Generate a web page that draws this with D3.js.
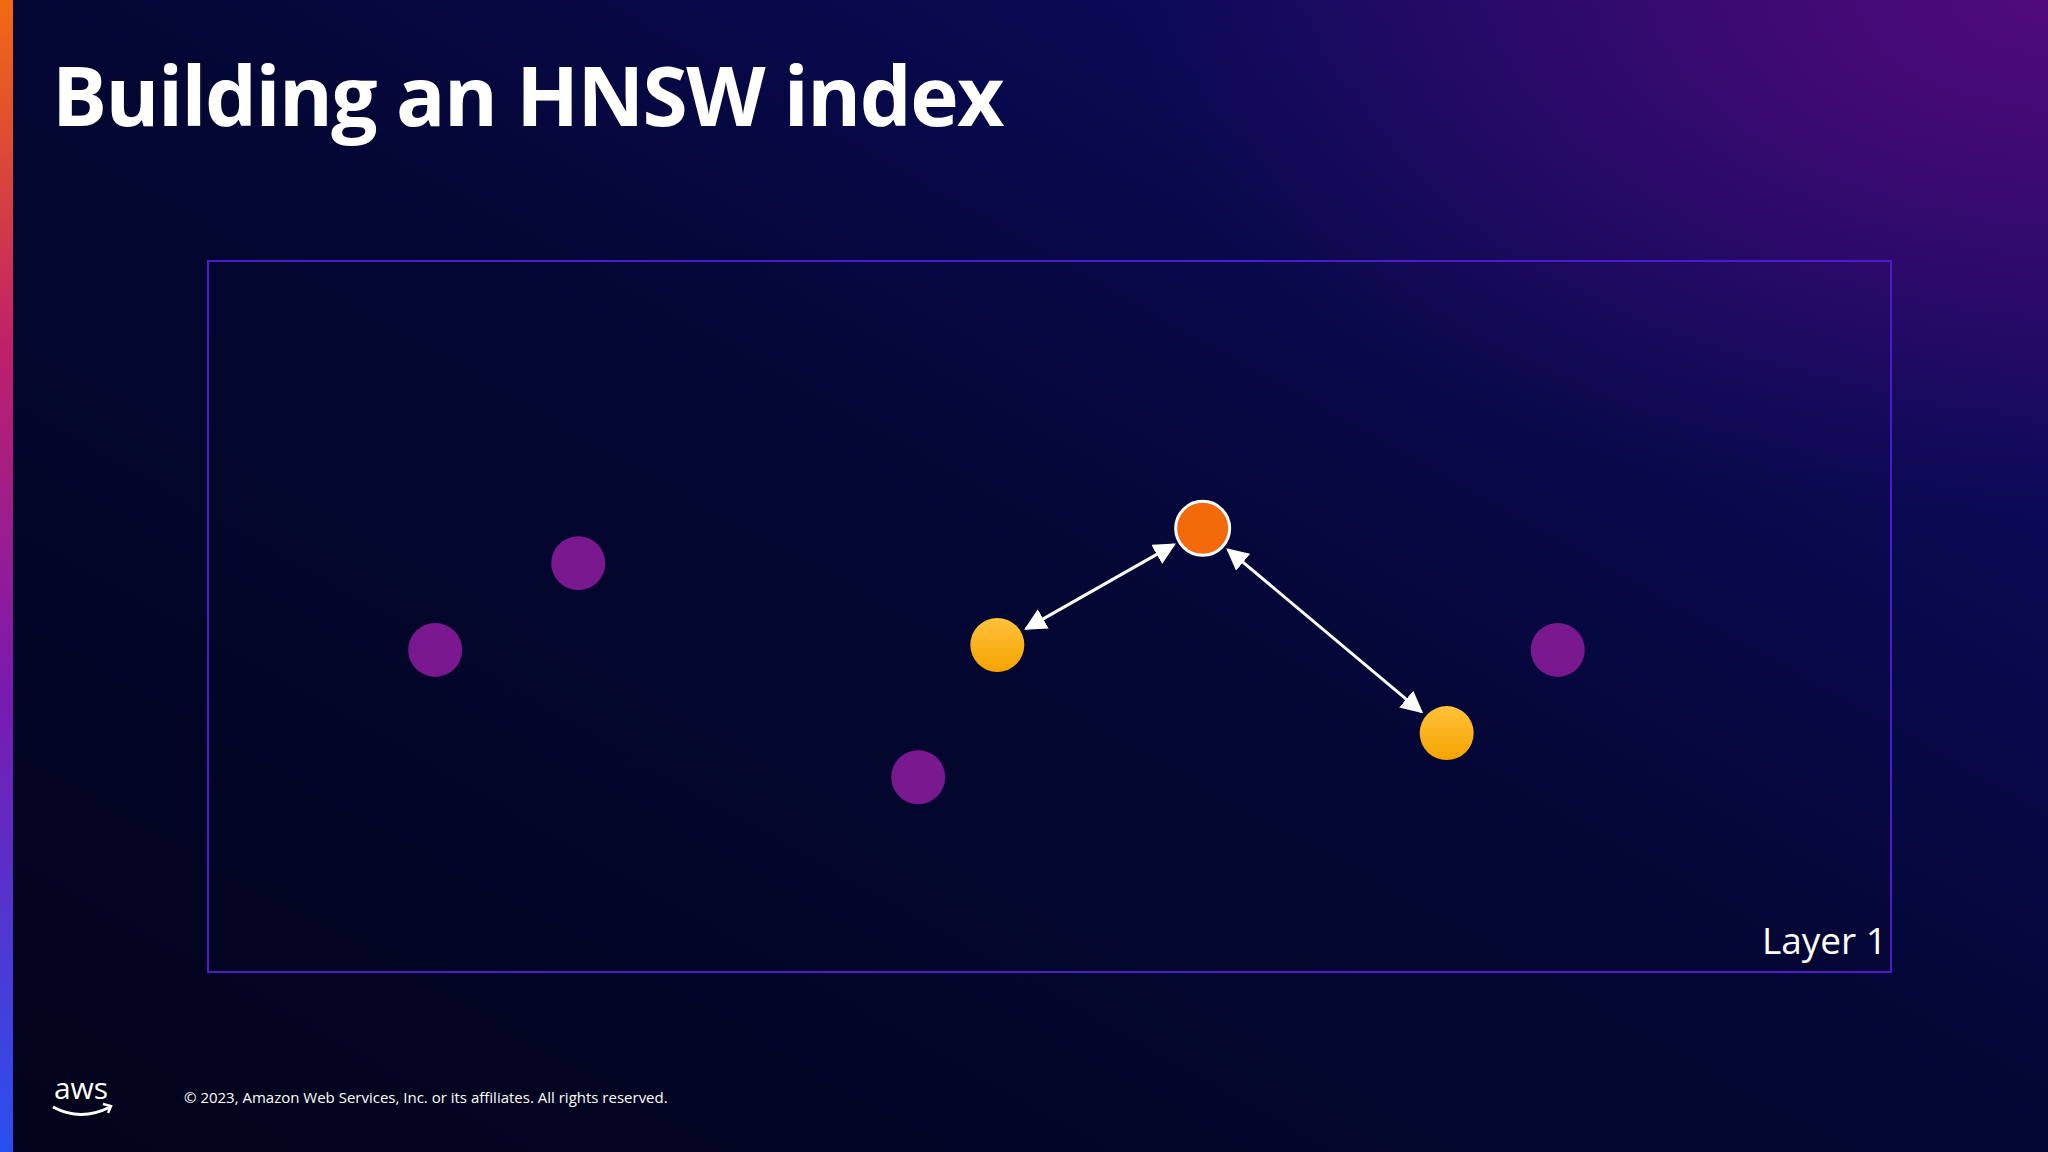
<!DOCTYPE html>
<html>
<head>
<meta charset="utf-8">
<script src="https://cdn.jsdelivr.net/npm/d3@7"></script>
<style>
  html, body { margin:0; padding:0; background:#020318; }
  svg { display:block; }
</style>
</head>
<body>
<div id="chart"></div>
<script>
// Slide size
const width = 2048;
const height = 1152;
// layer box (plot area)
const box = {left:208, top:261, right:1891, bottom:972};

// Node data (positions in 0-100 layer space)
const purpleX = [13.5, 22.0, 42.2, 80.2];
const purpleY = [54.7, 42.5, 72.6, 54.7];
const yellowX = [46.9, 73.6];
const yellowY = [54.0, 66.4];
const entryX = [59.1];
const entryY = [37.6];
const layerLabel = "Layer 1";

const svg = d3.select("#chart").append("svg")
  .attr("width", width).attr("height", height);

const defs = svg.append("defs");

// background gradient
const bg = defs.append("linearGradient").attr("id", "bg")
  .attr("x1", "0").attr("y1", "1").attr("x2", "1").attr("y2", "0");
bg.append("stop").attr("offset", "0%").attr("stop-color", "#02031a");
bg.append("stop").attr("offset", "50%").attr("stop-color", "#040733");
bg.append("stop").attr("offset", "80%").attr("stop-color", "#0a0a58");
bg.append("stop").attr("offset", "100%").attr("stop-color", "#1a0a66");
svg.append("rect").attr("width", width).attr("height", height).attr("fill", "url(#bg)");

const glow = defs.append("radialGradient").attr("id", "glow")
  .attr("cx", "1").attr("cy", "0").attr("r", "0.45");
glow.append("stop").attr("offset", "0%").attr("stop-color", "#5a0a80").attr("stop-opacity", 0.85);
glow.append("stop").attr("offset", "100%").attr("stop-color", "#5a0a80").attr("stop-opacity", 0);
svg.append("rect").attr("width", width).attr("height", height).attr("fill", "url(#glow)");

// left accent bar
const bar = defs.append("linearGradient").attr("id", "bar")
  .attr("x1", 0).attr("y1", 0).attr("x2", 0).attr("y2", 1);
[["0%","#f26a10"],["30%","#c0206a"],["60%","#7a1ab0"],["100%","#2a50f0"]]
  .forEach(s => bar.append("stop").attr("offset", s[0]).attr("stop-color", s[1]));
svg.append("rect").attr("width", 13).attr("height", height).attr("fill", "url(#bar)");

// title
svg.append("text").attr("x", 52).attr("y", 126)
  .attr("font-family", "Open Sans, sans-serif").attr("font-weight", 700)
  .attr("font-size", 82).attr("fill", "#fff").attr("letter-spacing", -1.5)
  .text("Building an HNSW index");

// layer box
svg.append("rect").attr("x", box.left).attr("y", box.top)
  .attr("width", box.right - box.left).attr("height", box.bottom - box.top)
  .attr("fill", "none").attr("stroke", "#4a1ccc").attr("stroke-width", 2);

svg.append("text").attr("x", box.right - 4).attr("y", box.bottom - 18)
  .attr("text-anchor", "end").attr("font-family", "Open Sans, sans-serif")
  .attr("font-size", 37).attr("fill", "#fff").text(layerLabel);

let xScale = d3.scaleLinear().domain([0, 100]).range([box.left, box.right]);
let yScale = d3.scaleLinear().domain([0, 100]).range([box.top, box.bottom]);
const r = 27;

// arrow markers
defs.append("marker").attr("id", "head").attr("viewBox", "0 0 10 10")
  .attr("refX", 9).attr("refY", 5)
  .attr("orient", "auto-start-reverse").attr("markerUnits", "userSpaceOnUse")
  .attr("markerWidth", 22).attr("markerHeight", 22)
  .append("path").attr("d", "M0,0 L10,5 L0,10 Z").attr("fill", "#fff");

// edges from entry node to yellow neighbours
const ex = xScale(entryX[0]), ey = yScale(entryY[0]);
yellowX.forEach((v, i) => {
  const tx = xScale(v), ty = yScale(yellowY[i]);
  const dx = tx - ex, dy = ty - ey, len = Math.hypot(dx, dy);
  const gap = r + 6;
  svg.append("line")
    .attr("x1", ex + dx / len * gap).attr("y1", ey + dy / len * gap)
    .attr("x2", tx - dx / len * gap).attr("y2", ty - dy / len * gap)
    .attr("stroke", "#fff").attr("stroke-width", 3)
    .attr("marker-start", "url(#head)").attr("marker-end", "url(#head)");
});

// yellow gradient
const yg = defs.append("linearGradient").attr("id", "yg")
  .attr("x1", 0).attr("y1", 0).attr("x2", 0).attr("y2", 1);
yg.append("stop").attr("offset", "0%").attr("stop-color", "#ffc23a");
yg.append("stop").attr("offset", "100%").attr("stop-color", "#f5a300");

svg.selectAll(".purple").data(purpleX).enter().append("circle")
  .attr("class", "purple")
  .attr("cx", d => xScale(d)).attr("cy", (d, i) => yScale(purpleY[i]))
  .attr("r", r).attr("fill", "#7a1890");

svg.selectAll(".yellow").data(yellowX).enter().append("circle")
  .attr("class", "yellow")
  .attr("cx", d => xScale(d)).attr("cy", (d, i) => yScale(yellowY[i]))
  .attr("r", r).attr("fill", "url(#yg)");

svg.selectAll(".entry").data(entryX).enter().append("circle")
  .attr("class", "entry")
  .attr("cx", d => xScale(d)).attr("cy", (d, i) => yScale(entryY[i]))
  .attr("r", r).attr("fill", "#f26a0a").attr("stroke", "#fff").attr("stroke-width", 3);

// footer
svg.append("text").attr("x", 81).attr("y", 1099).attr("text-anchor", "middle")
  .attr("font-family", "Open Sans, sans-serif").attr("font-size", 30)
  .attr("fill", "#fff").text("aws");
svg.append("path").attr("d", "M53,1107 Q81,1122 110,1107")
  .attr("fill", "none").attr("stroke", "#fff").attr("stroke-width", 3);
svg.append("path").attr("d", "M103,1104 L111,1106 L108,1113")
  .attr("fill", "none").attr("stroke", "#fff").attr("stroke-width", 2.5);
svg.append("text").attr("x", 184).attr("y", 1103)
  .attr("font-family", "Open Sans, sans-serif").attr("font-size", 15)
  .attr("fill", "#fff").text("© 2023, Amazon Web Services, Inc. or its affiliates. All rights reserved.");
</script>
</body>
</html>
